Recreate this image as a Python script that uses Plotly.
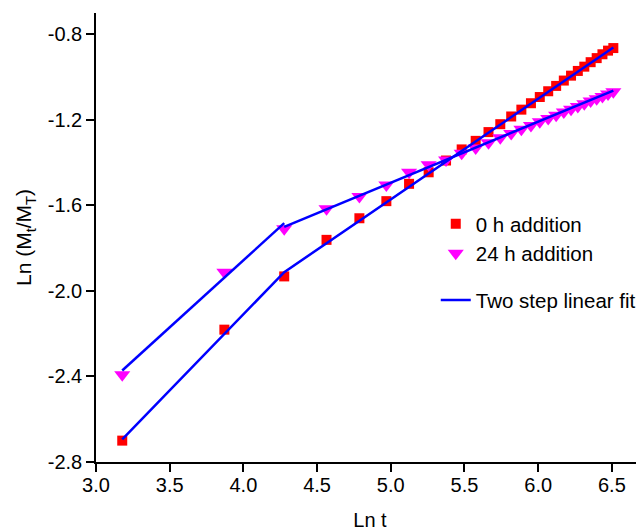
import plotly.graph_objects as go

# Ln t values (t = 24, 48, ..., 672 h)
ln_t = [3.178, 3.871, 4.277, 4.564, 4.787, 4.970, 5.124, 5.257, 5.375, 5.481,
        5.576, 5.663, 5.743, 5.817, 5.886, 5.951, 6.011, 6.068, 6.122, 6.174,
        6.223, 6.269, 6.313, 6.356, 6.397, 6.436, 6.474, 6.510]

y_0h = [-2.700, -2.181, -1.932, -1.761, -1.660, -1.580, -1.499, -1.445, -1.390, -1.338,
        -1.298, -1.257, -1.220, -1.184, -1.152, -1.122, -1.093, -1.066, -1.041, -1.016,
        -0.993, -0.971, -0.951, -0.930, -0.911, -0.893, -0.876, -0.864]

y_24h = [-2.392, -1.912, -1.709, -1.616, -1.558, -1.504, -1.445, -1.410, -1.387, -1.356,
         -1.331, -1.307, -1.284, -1.264, -1.244, -1.226, -1.209, -1.193, -1.178, -1.163,
         -1.150, -1.137, -1.124, -1.112, -1.101, -1.090, -1.079, -1.068]

# Two-step linear fit segments
fit0_x = [3.178, 4.277, 6.510]
fit0_y = [-2.694, -1.912, -0.861]
fit24_x = [3.178, 4.277, None, 4.277, 6.510]
fit24_y = [-2.372, -1.683, None, -1.700, -1.063]

x_ticks = [3.0, 3.5, 4.0, 4.5, 5.0, 5.5, 6.0, 6.5]
x_labels = ["3.0", "3.5", "4.0", "4.5", "5.0", "5.5", "6.0", "6.5"]
y_ticks = [-2.8, -2.4, -2.0, -1.6, -1.2, -0.8]
y_labels = ["-2.8", "-2.4", "-2.0", "-1.6", "-1.2", "-0.8"]

FONT = "Arial, Liberation Sans, sans-serif"

fig = go.Figure()
fig.add_trace(go.Scatter(x=ln_t, y=y_0h, mode="markers", name="0 h addition",
                         marker=dict(symbol="square", size=10, color="#FF0000", line=dict(width=0)),
                         legend="legend"))
fig.add_trace(go.Scatter(x=ln_t, y=y_24h, mode="markers", name="24 h addition",
                         marker=dict(symbol="triangle-down", size=14, color="#FF00FF", line=dict(width=0)),
                         legend="legend"))
fig.add_trace(go.Scatter(x=fit0_x, y=fit0_y, mode="lines", name="Two step linear fit",
                         line=dict(color="#0000FF", width=2.5), legend="legend2"))
fig.add_trace(go.Scatter(x=fit24_x, y=fit24_y, mode="lines", name="Two step linear fit",
                         line=dict(color="#0000FF", width=2.5), showlegend=False, legend="legend2"))

axis_common = dict(showgrid=False, zeroline=False, showline=True, linecolor="black", linewidth=1.5,
                   ticks="outside", ticklen=8, tickwidth=1.5, tickcolor="black", automargin=False,
                   tickfont=dict(family=FONT, size=20, color="black"), mirror=False)

fig.update_layout(
    width=636, height=523,
    margin=dict(l=88, r=0, t=5, b=69),
    paper_bgcolor="white", plot_bgcolor="white",
    font=dict(family=FONT, color="black"),
    xaxis=dict(range=[3.0, 6.718], tickvals=x_ticks, ticktext=x_labels, ticklabelstandoff=-4,
               title=dict(text="Ln t", font=dict(family=FONT, size=20), standoff=19),
               **axis_common),
    yaxis=dict(range=[-2.8, -0.7], tickvals=y_ticks, ticktext=y_labels,
               title=dict(text="Ln (M<sub>t</sub>/M<sub>T</sub>)", font=dict(family=FONT, size=21), standoff=10),
               **axis_common),
    legend=dict(x=0.62, y=0.575, xanchor="left", yanchor="top", bgcolor="rgba(0,0,0,0)",
                font=dict(family=FONT, size=20.5), borderwidth=0, tracegroupgap=0),
    legend2=dict(x=0.62, y=0.405, xanchor="left", yanchor="top", bgcolor="rgba(0,0,0,0)",
                 font=dict(family=FONT, size=20.5), borderwidth=0),
)

fig.write_html("out.html")
